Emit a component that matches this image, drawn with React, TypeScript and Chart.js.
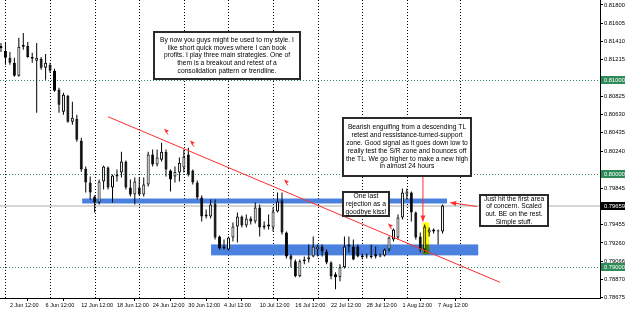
import React, { useEffect, useRef } from "react";
import { Chart, registerables } from "chart.js";
Chart.register(...registerables);

// ---- candle data (H12 bars, 30 May 12:00 .. 8 Aug 00:00) ----
const open = [
  0.81342, 0.8131, 0.81236, 0.81182, 0.81044, 0.81353, 0.81363, 0.81246, 0.81204, 0.81225,
  0.81129, 0.81161, 0.81097, 0.80895, 0.8066, 0.80831, 0.80554, 0.80586, 0.80352, 0.80053,
  0.79904, 0.79755, 0.79691, 0.79915, 0.80064, 0.79851, 0.79968, 0.80011, 0.80128, 0.79851,
  0.79777, 0.79851, 0.79777, 0.79883, 0.80203, 0.80096, 0.80149, 0.80234, 0.80032, 0.79968,
  0.80011, 0.80064, 0.80203, 0.80032, 0.79904, 0.79745, 0.79542, 0.79542, 0.79681, 0.79329,
  0.79223, 0.79191, 0.79319, 0.79436, 0.79542, 0.79446, 0.79521, 0.79489, 0.79638, 0.79425,
  0.79457, 0.79425, 0.79595, 0.79713, 0.79372, 0.79127, 0.79063, 0.78903, 0.79063, 0.79084,
  0.79116, 0.79191, 0.79223, 0.79169, 0.79052, 0.78925, 0.78893, 0.78999, 0.79223, 0.79223,
  0.79223, 0.79106, 0.79127, 0.79106, 0.79138, 0.79127, 0.79127, 0.79191, 0.79297, 0.79319,
  0.79532, 0.79777, 0.79798, 0.79585, 0.79329, 0.79191, 0.79372, 0.79382, 0.79393, 0.79382,
];
const high = [
  0.81395, 0.81406, 0.81299, 0.81236, 0.81449, 0.81502, 0.81406, 0.81289, 0.81395, 0.81246,
  0.81278, 0.81182, 0.81118, 0.80916, 0.80863, 0.80842, 0.80767, 0.80629, 0.80384, 0.80075,
  0.79968, 0.79766, 0.79936, 0.80085, 0.80075, 0.7999, 0.80043, 0.80234, 0.80139, 0.79936,
  0.79958, 0.79958, 0.79958, 0.80234, 0.80256, 0.80256, 0.8033, 0.80256, 0.80043, 0.80075,
  0.80171, 0.80256, 0.80277, 0.80043, 0.79926, 0.79766, 0.79617, 0.79723, 0.79723, 0.7934,
  0.79297, 0.79329, 0.79478, 0.79585, 0.79553, 0.79564, 0.79542, 0.79691, 0.7967, 0.79489,
  0.79564, 0.79638, 0.79798, 0.79798, 0.79382, 0.79138, 0.79084, 0.79084, 0.79116, 0.79244,
  0.79329, 0.79244, 0.79244, 0.79191, 0.79063, 0.78946, 0.79031, 0.79329, 0.79329, 0.79297,
  0.79244, 0.79148, 0.79148, 0.79244, 0.79223, 0.79148, 0.79201, 0.79329, 0.79414, 0.79564,
  0.7984, 0.7984, 0.79808, 0.79595, 0.79372, 0.79457, 0.79425, 0.79414, 0.79404, 0.7967,
];
const low = [
  0.81299, 0.81161, 0.81161, 0.81033, 0.81033, 0.81321, 0.81236, 0.81182, 0.8065, 0.81108,
  0.81001, 0.81076, 0.80873, 0.8065, 0.80629, 0.80543, 0.80522, 0.80341, 0.80021, 0.79798,
  0.79723, 0.79585, 0.7967, 0.7983, 0.7983, 0.79691, 0.79915, 0.79958, 0.7983, 0.79755,
  0.7967, 0.79766, 0.79755, 0.79862, 0.80075, 0.80075, 0.80128, 0.79968, 0.79808, 0.79904,
  0.79915, 0.80011, 0.79968, 0.79883, 0.79723, 0.79489, 0.79521, 0.79521, 0.79297, 0.79191,
  0.79191, 0.7918, 0.79276, 0.79265, 0.79425, 0.79425, 0.79457, 0.79468, 0.79329, 0.79404,
  0.79404, 0.79382, 0.79585, 0.79351, 0.79095, 0.78999, 0.78893, 0.78893, 0.79031, 0.79052,
  0.79106, 0.79116, 0.79116, 0.79031, 0.78871, 0.78765, 0.7885, 0.78988, 0.79159, 0.79074,
  0.79106, 0.79084, 0.79095, 0.79095, 0.79095, 0.79106, 0.79116, 0.79169, 0.79276, 0.79297,
  0.7951, 0.79723, 0.79489, 0.79297, 0.79159, 0.79159, 0.79329, 0.79361, 0.79244, 0.79361,
];
const close = [
  0.81363, 0.81236, 0.81182, 0.81044, 0.81353, 0.81374, 0.81246, 0.81225, 0.81236, 0.81129,
  0.81182, 0.81097, 0.80884, 0.80735, 0.80842, 0.80554, 0.80597, 0.80362, 0.80043, 0.79904,
  0.79798, 0.79691, 0.79915, 0.80075, 0.79851, 0.79979, 0.7999, 0.80128, 0.79851, 0.79777,
  0.79915, 0.79777, 0.79883, 0.80203, 0.80096, 0.80171, 0.80234, 0.80043, 0.79936, 0.80021,
  0.80117, 0.80181, 0.7999, 0.79904, 0.79745, 0.79542, 0.79564, 0.7967, 0.79319, 0.79201,
  0.79201, 0.79319, 0.79436, 0.79542, 0.79446, 0.79521, 0.79489, 0.79638, 0.79425, 0.79446,
  0.79436, 0.79595, 0.79702, 0.79372, 0.79116, 0.79084, 0.78903, 0.79063, 0.79084, 0.79106,
  0.79223, 0.79223, 0.79169, 0.79052, 0.78903, 0.78893, 0.78999, 0.79223, 0.79244, 0.79084,
  0.79116, 0.79127, 0.79116, 0.79127, 0.79116, 0.79116, 0.79191, 0.79319, 0.79404, 0.79532,
  0.79798, 0.79808, 0.79585, 0.79319, 0.79191, 0.79436, 0.79404, 0.79404, 0.79382, 0.79659,
];

// ---- axes ----
const xLabels = [
  "2 Jun 12:00", "6 Jun 12:00", "12 Jun 12:00", "18 Jun 12:00", "24 Jun 12:00", "30 Jun 12:00",
  "4 Jul 12:00", "10 Jul 12:00", "16 Jul 12:00", "22 Jul 12:00", "28 Jul 12:00", "1 Aug 12:00", "7 Aug 12:00",
];
const xLabelIdx = [2, 10, 18, 26, 34, 42, 50, 58, 66, 74, 82, 90, 98];
const weekIdx = [1, 11, 21, 31, 41, 51, 61, 71, 81, 91, 103];
const yTicks = [
  0.818, 0.81605, 0.8141, 0.81215, 0.80825, 0.8063, 0.80435, 0.8024,
  0.79845, 0.79455, 0.7926, 0.79066, 0.7887, 0.78675,
];
const roundLevels = [0.81, 0.8, 0.79];
const bidPrice = 0.79659;
const specialP = [0.81, 0.8, 0.79, 0.79659];
const specialText = ["0.81000", "0.80000", "0.79000", "0.79659"];

// ---- annotations ----
const zoneStart = [18.2, 47.1];
const zoneEnd = [100, 107];
const zoneHigh = [0.79734, 0.79244];
const zoneLow = [0.79681, 0.79127];
const trendK = [24.0, 111.9];
const trendP = [0.80607, 0.78839];
const markerK = [37.0, 42.8, 63.9, 87.2];
const markerP = [0.80448, 0.8032, 0.79904, 0.79436];
const arrowFromK = [94.6, 106.7];
const arrowFromP = [0.79968, 0.79649];
const arrowToK = [94.6, 100.7];
const arrowToP = [0.79489, 0.79691];
const hlK = [94.55, 96.0];
const hlP = [0.79478, 0.79138];
const boxK0 = [34.1, 76.5, 76.5, 107.2];
const boxK1 = [67.3, 105.6, 87.2, 122.9];
const boxPTop = [0.81523, 0.80607, 0.79809, 0.79777];
const boxPBot = [0.81001, 0.79968, 0.79532, 0.79425];
const boxLines = [
  [
    "By now you guys might be used to my style. I",
    "like short quick moves where I can book",
    "profits. I play three main strategies. One of",
    "them is a breakout and retest of a",
    "consolidation pattern or trendline.",
  ],
  [
    "Bearish engulfing from a descending TL",
    "retest and ressistance-turned-support",
    "zone. Good signal as it goes down low to",
    "really test the S/R zone and bounces off",
    "the TL. We go higher to make a new high",
    "in almost 24 hours",
  ],
  ["One last", "rejection as a", "goodbye kiss!"],
  ["Just hit the first area", "of concern. Scaled", "out. BE on the rest.", "Simple stuff."],
];

const FONT = '"Liberation Sans", Arial, sans-serif';
const GREEN = "#2e8b57";
const BLUE = "#4a80de";
const RED = "#ff2d2d";

function arrow(ctx: CanvasRenderingContext2D, x0: number, y0: number, x1: number, y1: number) {
  const ang = Math.atan2(y1 - y0, x1 - x0);
  ctx.beginPath();
  ctx.moveTo(x0, y0);
  ctx.lineTo(x1, y1);
  ctx.stroke();
  const L = 6, W = 2.5;
  const c = Math.cos(ang), s = Math.sin(ang);
  ctx.beginPath();
  ctx.moveTo(x1, y1);
  ctx.lineTo(x1 - L * c + W * s, y1 - L * s - W * c);
  ctx.lineTo(x1 - L * c - W * s, y1 - L * s + W * c);
  ctx.closePath();
  ctx.fill();
}

const overlay = {
  id: "overlay",
  beforeDatasetsDraw(chart: any) {
    const { ctx, chartArea: a } = chart;
    const xs = chart.scales.x, ys = chart.scales.y;
    ctx.save();
    ctx.beginPath();
    ctx.rect(a.left, a.top, a.right - a.left, a.bottom - a.top);
    ctx.clip();
    ctx.lineWidth = 1;
    ctx.setLineDash([1, 2]);
    ctx.strokeStyle = "#000";
    weekIdx.forEach((k) => {
      const x = Math.round(xs.getPixelForValue(k)) + 0.5;
      ctx.beginPath();
      ctx.moveTo(x, a.top);
      ctx.lineTo(x, a.bottom);
      ctx.stroke();
    });
    ctx.strokeStyle = GREEN;
    roundLevels.forEach((p) => {
      const y = Math.round(ys.getPixelForValue(p)) + 0.5;
      ctx.beginPath();
      ctx.moveTo(a.left, y);
      ctx.lineTo(a.right, y);
      ctx.stroke();
    });
    ctx.setLineDash([]);
    ctx.strokeStyle = "#d6d6d6";
    ctx.lineWidth = 2;
    const yb = Math.round(ys.getPixelForValue(bidPrice));
    ctx.beginPath();
    ctx.moveTo(a.left, yb);
    ctx.lineTo(a.right, yb);
    ctx.stroke();
    ctx.fillStyle = BLUE;
    zoneStart.forEach((k0, i) => {
      const x0 = xs.getPixelForValue(k0), x1 = xs.getPixelForValue(zoneEnd[i]);
      const y0 = ys.getPixelForValue(zoneHigh[i]), y1 = ys.getPixelForValue(zoneLow[i]);
      ctx.fillRect(x0, y0, x1 - x0, y1 - y0);
    });
    ctx.restore();
  },
  afterDatasetsDraw(chart: any) {
    const { ctx, chartArea: a } = chart;
    const xs = chart.scales.x, ys = chart.scales.y;
    ctx.save();
    ctx.beginPath();
    ctx.rect(a.left, a.top, a.right - a.left, a.bottom - a.top);
    ctx.clip();
    // yellow highlight (multiply)
    ctx.globalCompositeOperation = "multiply";
    ctx.fillStyle = "#ffff00";
    {
      const x0 = xs.getPixelForValue(hlK[0]), x1 = xs.getPixelForValue(hlK[1]);
      const y0 = ys.getPixelForValue(hlP[0]), y1 = ys.getPixelForValue(hlP[1]);
      ctx.fillRect(x0, y0, x1 - x0, y1 - y0);
    }
    ctx.globalCompositeOperation = "source-over";
    // trendline
    ctx.strokeStyle = RED;
    ctx.fillStyle = RED;
    ctx.lineWidth = 1;
    ctx.beginPath();
    ctx.moveTo(xs.getPixelForValue(trendK[0]), ys.getPixelForValue(trendP[0]));
    ctx.lineTo(xs.getPixelForValue(trendK[1]), ys.getPixelForValue(trendP[1]));
    ctx.stroke();
    // arrows
    arrowFromK.forEach((k, i) => {
      arrow(
        ctx,
        xs.getPixelForValue(k), ys.getPixelForValue(arrowFromP[i]),
        xs.getPixelForValue(arrowToK[i]), ys.getPixelForValue(arrowToP[i])
      );
    });
    // small markers
    markerK.forEach((k, i) => {
      const x = xs.getPixelForValue(k), y = ys.getPixelForValue(markerP[i]);
      ctx.beginPath();
      ctx.moveTo(x - 2, y - 3);
      ctx.lineTo(x + 3, y - 1);
      ctx.lineTo(x, y + 1);
      ctx.closePath();
      ctx.fill();
      ctx.beginPath();
      ctx.moveTo(x, y);
      ctx.lineTo(x + 2, y + 3);
      ctx.stroke();
    });
    // text boxes
    ctx.font = `6.7px ${FONT}`;
    ctx.textAlign = "center";
    ctx.textBaseline = "middle";
    boxK0.forEach((k0, i) => {
      const x0 = Math.round(xs.getPixelForValue(k0)), x1 = Math.round(xs.getPixelForValue(boxK1[i]));
      const y0 = Math.round(ys.getPixelForValue(boxPTop[i])), y1 = Math.round(ys.getPixelForValue(boxPBot[i]));
      ctx.fillStyle = "#fff";
      ctx.fillRect(x0, y0, x1 - x0, y1 - y0);
      ctx.strokeStyle = "#2a2a2a";
      ctx.lineWidth = 2;
      ctx.strokeRect(x0 + 1, y0 + 1, x1 - x0 - 2, y1 - y0 - 2);
      ctx.fillStyle = "#000";
      const lines = boxLines[i];
      const lh = 7.8;
      const cy = (y0 + y1) / 2 - (lines.length * lh) / 2 + lh / 2;
      lines.forEach((t, j) => ctx.fillText(t, (x0 + x1) / 2, cy + j * lh));
    });
    ctx.restore();
  },
  afterDraw(chart: any) {
    const { ctx, chartArea: a } = chart;
    const ys = chart.scales.y;
    ctx.save();
    ctx.font = `5.8px ${FONT}`;
    ctx.textAlign = "left";
    ctx.textBaseline = "middle";
    specialP.forEach((p, i) => {
      const y = Math.round(ys.getPixelForValue(p));
      ctx.fillStyle = i < 3 ? GREEN : "#000";
      ctx.fillRect(a.right + 1, y - 4, 24, 8);
      ctx.fillStyle = "#fff";
      ctx.fillText(specialText[i], a.right + 4, y + 0.5);
    });
    ctx.restore();
  },
};

export default function App() {
  const ref = useRef<HTMLCanvasElement>(null);
  useEffect(() => {
    document.body.style.margin = "0";
    const idx = open.map((_, i) => i);
    const chart = new Chart(ref.current as HTMLCanvasElement, {
      type: "bar",
      data: {
        datasets: [
          {
            label: "wick",
            data: idx.map((i) => ({ x: i, y: [low[i], high[i]] })) as any,
            backgroundColor: "#000",
            borderWidth: 0,
            maxBarThickness: 1,
            grouped: false,
            inflateAmount: 0,
            order: 2,
          } as any,
          {
            label: "body",
            data: idx.map((i) => ({ x: i, y: [open[i], close[i]] })) as any,
            backgroundColor: idx.map((i) => (close[i] >= open[i] ? "#fff" : "#000")),
            borderColor: "#000",
            borderWidth: 1,
            borderSkipped: false,
            maxBarThickness: 3,
            minBarLength: 1,
            grouped: false,
            inflateAmount: 0,
            order: 1,
          } as any,
        ],
      },
      options: {
        animation: false,
        responsive: false,
        maintainAspectRatio: false,
        devicePixelRatio: 1,
        events: [],
        layout: { padding: 0 },
        plugins: { legend: { display: false }, tooltip: { enabled: false } },
        scales: {
          x: {
            type: "linear",
            min: -0.224,
            max: 134.3,
            bounds: "data",
            offset: false,
            grid: { display: true, drawOnChartArea: false, drawTicks: true, tickLength: 3, tickColor: "#000" },
            border: { display: true, color: "#000", width: 1 },
            ticks: {
              autoSkip: false,
              maxRotation: 0,
              minRotation: 0,
              align: "start",
              padding: 1,
              color: "#000",
              font: { family: FONT, size: 5.5 },
              callback: (_v: any, i: number) => xLabels[i] ?? "",
            },
            afterBuildTicks: (s: any) => {
              s.ticks = xLabelIdx.map((v) => ({ value: v }));
            },
            afterFit: (s: any) => {
              s.height = 13;
              s.paddingLeft = 0;
              s.paddingRight = 0;
              s.paddingTop = 0;
              s.paddingBottom = 0;
            },
          } as any,
          y: {
            type: "linear",
            position: "right",
            min: 0.78672,
            max: 0.818532,
            bounds: "data",
            grid: { display: true, drawOnChartArea: false, drawTicks: true, tickLength: 3, tickColor: "#000" },
            border: { display: true, color: "#000", width: 1 },
            ticks: {
              autoSkip: false,
              padding: 1,
              color: "#000",
              font: { family: FONT, size: 5.8 },
              callback: (v: any) => Number(v).toFixed(5),
            },
            afterBuildTicks: (s: any) => {
              s.ticks = yTicks.map((v) => ({ value: v }));
            },
            afterFit: (s: any) => {
              s.width = 25;
              s.paddingLeft = 0;
              s.paddingRight = 0;
              s.paddingTop = 0;
              s.paddingBottom = 0;
            },
          } as any,
        },
      },
      plugins: [overlay],
    });
    return () => chart.destroy();
  }, []);
  return (
    <div style={{ width: 625, height: 311 }}>
      <canvas ref={ref} width={625} height={311} style={{ display: "block", width: 625, height: 311 }} />
    </div>
  );
}
